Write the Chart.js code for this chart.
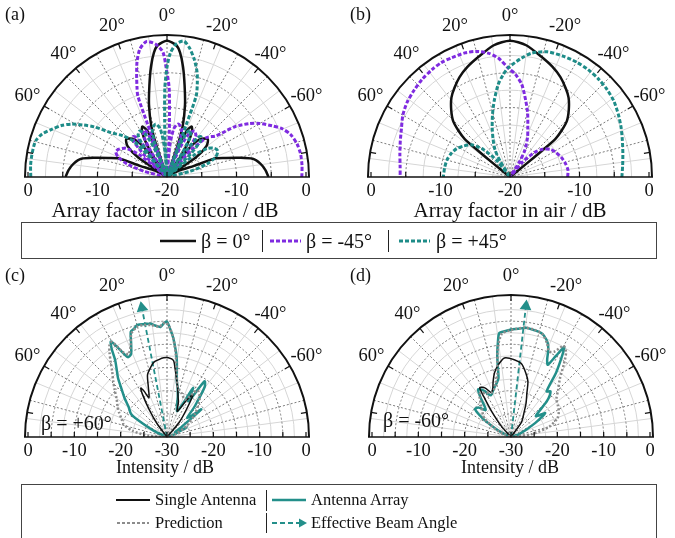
<!DOCTYPE html>
<html>
<head>
<meta charset="utf-8">
<script src="https://cdn.jsdelivr.net/npm/chart.js@4.4.1/dist/chart.umd.min.js"></script>
<style>
  body { margin: 0; background: #fff; }
  #page { position: relative; width: 675px; height: 538px; overflow: hidden;
          font-family: "Liberation Serif", "Times New Roman", serif; color: #111; }
  canvas { position: absolute; }
  .txt { position: absolute; font-size: 18px; line-height: 22px; white-space: nowrap; }
  .big { font-size: 20px; line-height: 24px; }
  .title { font-size: 21px; line-height: 24px; }
  .small { font-size: 16.5px; line-height: 22px; }
  .box { position: absolute; border: 1px solid #444; box-sizing: border-box; }
  svg { position: absolute; left: 0; top: 0; }
</style>
</head>
<body>
<div id="page">
  <canvas id="chartA" width="337" height="205" style="left:0;top:0"></canvas>
  <canvas id="chartB" width="338" height="205" style="left:337px;top:0"></canvas>
  <canvas id="chartC" width="337" height="200" style="left:0;top:262px"></canvas>
  <canvas id="chartD" width="338" height="200" style="left:337px;top:262px"></canvas>

  <div class="txt" style="left:5px;top:3px">(a)</div>
  <div class="txt" style="left:350px;top:3px">(b)</div>
  <div class="txt" style="left:5px;top:264px">(c)</div>
  <div class="txt" style="left:350px;top:264px">(d)</div>

  <div class="txt title" style="left:165px;top:198px;transform:translateX(-50%)">Array factor in silicon / dB</div>
  <div class="txt title" style="left:510px;top:198px;transform:translateX(-50%)">Array factor in air / dB</div>
  <div class="txt" style="left:165px;top:456px;transform:translateX(-50%)">Intensity / dB</div>
  <div class="txt" style="left:510px;top:456px;transform:translateX(-50%)">Intensity / dB</div>

  <div class="txt big" style="left:41px;top:411px">β = +60°</div>
  <div class="txt big" style="left:383px;top:408px">β = -60°</div>

  <div class="box" style="left:21px;top:222px;width:636px;height:37px"></div>
  <div class="box" style="left:21px;top:484px;width:636px;height:70px"></div>

  <svg width="675" height="538">
    <line x1="160" y1="241" x2="196" y2="241" stroke="#111" stroke-width="2.5"/>
    <line x1="262.5" y1="230" x2="262.5" y2="252" stroke="#222" stroke-width="1"/>
    <line x1="270" y1="241" x2="301" y2="241" stroke="#7f2be0" stroke-width="3" stroke-dasharray="4 2"/>
    <line x1="388.5" y1="230" x2="388.5" y2="252" stroke="#222" stroke-width="1"/>
    <line x1="399" y1="241" x2="430" y2="241" stroke="#1e8c88" stroke-width="3" stroke-dasharray="4 2"/>

    <line x1="116" y1="500" x2="150" y2="500" stroke="#111" stroke-width="2"/>
    <line x1="117" y1="523" x2="149" y2="523" stroke="#8c8c8c" stroke-width="2" stroke-dasharray="3 2"/>
    <line x1="266.5" y1="490" x2="266.5" y2="511" stroke="#222" stroke-width="1"/>
    <line x1="266.5" y1="513" x2="266.5" y2="533" stroke="#222" stroke-width="1"/>
    <line x1="272" y1="500" x2="306" y2="500" stroke="#238f8a" stroke-width="2.5"/>
    <line x1="272" y1="523" x2="299" y2="523" stroke="#238f8a" stroke-width="2" stroke-dasharray="5 3"/>
    <polygon points="299,518.5 307,523 299,527.5" fill="#238f8a"/>
  </svg>

  <div class="txt big" style="left:201px;top:229px">β = 0°</div>
  <div class="txt big" style="left:306px;top:229px">β = -45°</div>
  <div class="txt big" style="left:436px;top:229px">β = +45°</div>
  <div class="txt small" style="left:155px;top:489px">Single Antenna</div>
  <div class="txt small" style="left:311px;top:489px">Antenna Array</div>
  <div class="txt small" style="left:155px;top:512px">Prediction</div>
  <div class="txt small" style="left:311px;top:512px">Effective Beam Angle</div>
</div>

<script>
// every series: [angle in degrees (positive = left of broadside), level in dB]

// (a) array factor in silicon
const siliconBeta0 = [[-90,-5.4],[-86,-5.8],[-82,-6.4],[-78,-7.4],[-75,-9.3],[-72,-11.1],[-69,-12.5],[-67.5,-15.8],[-64,-17.5],[-61,-18.5],[-58.5,-20],[-56,-15],[-52,-12.8],[-47,-12],[-41,-12.8],[-37.5,-15],[-35.5,-20],[-34,-17],[-32,-14.5],[-29,-12.6],[-26,-11.9],[-23,-12.8],[-21,-15],[-19.5,-20],[-18.5,-15],[-17,-12.2],[-14,-9.3],[-10.9,-6.6],[-8.3,-4],[-6,-2],[-4,-1],[0,-0.4],[4,-1],[6,-2],[8.3,-4],[10.9,-6.6],[14,-9.3],[17,-12.2],[18.5,-15],[19.5,-20],[21,-15],[23,-12.8],[26,-11.9],[29,-12.6],[32,-14.5],[34,-17],[35.5,-20],[37.5,-15],[41,-12.8],[47,-12],[52,-12.8],[56,-15],[58.5,-20],[61,-18.5],[64,-17.5],[67.5,-15.8],[69,-12.5],[72,-11.1],[75,-9.3],[78,-7.4],[82,-6.4],[86,-5.8],[90,-5.4]];
const siliconBetaM45 = [[-90,-0.6],[-85,-0.5],[-80,-0.5],[-75.6,-0.7],[-71,-1.2],[-67,-2.1],[-64,-3.2],[-60,-4.6],[-57,-5.9],[-53.5,-7.8],[-50,-10.8],[-45,-12],[-42,-15],[-40,-20],[-38,-15],[-35,-12.8],[-31,-12.3],[-27,-13],[-24,-15.5],[-22,-20],[-20,-15],[-17,-12.8],[-12,-12.2],[-8,-13],[-5,-15.5],[-3.5,-20],[-3.2,-15],[-2.8,-13],[-1.4,-7.2],[0.5,-4.2],[1.9,-2],[5,-0.8],[8.7,-0.3],[12,-1.2],[14.5,-2.8],[16.6,-4.7],[18.5,-6.4],[19.8,-7.6],[20.2,-12],[20.5,-20],[22,-15],[24.5,-12.8],[27,-12.5],[30,-13.5],[32.5,-16],[34,-20],[36,-15],[38,-12.8],[40,-12.4],[43,-13],[46,-15.5],[48,-20],[51,-15],[55,-12.8],[60,-12],[64,-11.8],[68,-12.5],[72,-14],[76,-16.5],[80,-20],[90,-20]];
const siliconBetaP45 = [[-90,-20],[-80,-20],[-76,-16.5],[-72,-14],[-68,-12.5],[-63,-11.8],[-59,-12],[-55,-12.8],[-51,-15],[-48,-20],[-46,-15.5],[-43,-13],[-40,-12.4],[-38,-12.8],[-36,-15],[-34,-20],[-32.5,-16],[-30,-13.5],[-27,-12.5],[-24.5,-12.8],[-22,-15],[-20.5,-20],[-20.2,-12],[-19.8,-7.6],[-18,-5.9],[-16,-4.3],[-13,-2.6],[-10,-1.2],[-7.1,-0.3],[-4,-0.8],[-1.5,-2.2],[0,-4.2],[1.4,-7.2],[2.4,-12],[3,-14],[3.5,-20],[5,-15.5],[8,-13],[12,-12.2],[17,-12.8],[20,-15],[22,-20],[24,-15.5],[27,-13],[31,-12.3],[35,-12.8],[38,-15],[40,-20],[41,-16],[42.9,-13],[47,-11.3],[51.7,-9.7],[55.4,-7.3],[58,-5.9],[61,-4.3],[64,-3.1],[67.4,-2.1],[71,-1.0],[74.6,-0.4],[80,-0.3],[85,-0.3],[90,-0.4]];

// (b) array factor in air
const airBeta0 = [[-51.5,-20],[-51,-17],[-50.5,-14],[-50,-11.5],[-48,-10],[-45.4,-8.5],[-41,-7.1],[-36.4,-5.8],[-32,-4.9],[-26.8,-3.9],[-21,-3],[-14.5,-2.1],[-7,-0.9],[0,-0.4],[7,-0.9],[14.5,-2.1],[21,-3],[26.8,-3.9],[32,-4.9],[36.4,-5.8],[41,-7.1],[45.4,-8.5],[48,-10],[50,-11.5],[50.5,-14],[51,-17],[51.5,-20]];
const airBetaM45 = [[-90,-11.7],[-83,-11.6],[-76,-11.8],[-69,-12.1],[-62,-12.5],[-56,-12.9],[-50,-13.8],[-45,-15],[-40,-17.2],[-35,-20],[-32,-17.5],[-29,-15.6],[-24,-13.8],[-19.7,-12.4],[-15.5,-10.5],[-11.7,-8.8],[-7.3,-6.6],[-3,-5.2],[1,-4.3],[5.6,-2.8],[10,-1.9],[15,-1.3],[20,-1.0],[26,-0.9],[31,-0.8],[36,-0.9],[42,-1.1],[48,-1.4],[54,-1.7],[60,-2.2],[66,-2.9],[72,-3.4],[78,-3.8],[84,-4.1],[90,-4.2]];
const airBetaP45 = [[-90,-3.9],[-84,-3.7],[-78,-3.4],[-72,-3.0],[-66,-2.5],[-60,-2.0],[-54,-1.5],[-48,-1.2],[-42,-1.0],[-36,-0.9],[-30,-0.9],[-24,-1.0],[-16.7,-1.2],[-10,-1.9],[-5.6,-2.8],[1,-4.3],[4,-5.3],[7.3,-6.6],[11.7,-8.8],[15.5,-10.6],[19.7,-12.4],[24,-14],[29,-15.6],[32,-17.5],[35,-20],[39,-17],[44,-14.5],[50,-12.8],[56,-12],[62,-11.3],[68,-10.9],[75,-10.6],[82,-10.5],[90,-10.4]];

// (c) measured intensity, beta = +60 deg
const singleC = [[-90,-30],[-50,-30],[-40,-26],[-35,-22.5],[-31.4,-19.3],[-28,-21],[-22,-24],[-18,-22],[-15.8,-21.2],[-12,-19],[-10,-17.8],[-6.7,-15.1],[-4.8,-13.4],[-1,-12.9],[2.4,-12.9],[6,-13.2],[9.9,-13.6],[14,-14.8],[17.5,-16],[20.5,-18.5],[24.7,-20.7],[26.5,-19],[28.1,-18],[30,-19.5],[33,-23],[36.7,-26.5],[45,-30],[90,-30]];
const arrayC = [[-90,-30],[-75,-30],[-68,-28],[-64,-25.3],[-60,-28],[-55,-26],[-51,-20.5],[-47,-24],[-42,-21],[-37,-16.5],[-34,-15.5],[-31,-21],[-28,-18],[-25.6,-22],[-21,-24],[-15,-21],[-12,-19],[-10,-17.8],[-7.1,-13],[-3.8,-8.8],[-1.5,-6.5],[0,-5.1],[1.5,-5.4],[3.4,-6.2],[6,-5.8],[8.3,-5.3],[11,-5.2],[14.8,-5.0],[17,-5.6],[19,-6.0],[21,-8.4],[23.5,-10.5],[26.1,-10.8],[28.5,-8.4],[30.4,-6.1],[32,-7.4],[34,-10],[37,-12],[39.8,-13.5],[43,-15.5],[47.3,-17.5],[52,-19.5],[57.4,-20.8],[60,-23],[65,-27],[70,-30],[90,-30]];
const predictionC = [[-90,-30],[-70,-28],[-60,-25],[-50,-22],[-40,-19],[-33,-18],[-26,-21],[-18,-20],[-12,-19],[-9,-16.5],[-6,-12],[-3.5,-8.5],[-1,-6],[1,-5.3],[4,-6.1],[8,-5.6],[12,-5.3],[15,-5.3],[19,-6.4],[22,-9],[25,-10.3],[27.5,-9.3],[30,-6.3],[32,-6.6],[34,-7.8],[37,-9.8],[40,-11.6],[44,-13.3],[48,-14.8],[53,-16.4],[58,-17.4],[63,-18.4],[68,-19.4],[74,-20.3],[80,-22.5],[86,-26],[90,-30]];
const beamC = [11];

// (d) measured intensity, beta = -60 deg
const singleD = [[-90,-30],[-45,-30],[-35,-26],[-28,-24],[-24,-22],[-20,-20],[-17,-17.5],[-13,-15.8],[-8,-14],[-2.4,-13.3],[4.8,-12.9],[10,-14.2],[14.4,-15.7],[18,-17.5],[21,-19],[24,-19.5],[28,-18],[32.4,-17.4],[34,-19.5],[37,-23],[42,-27],[50,-30],[90,-30]];
const arrayD = [[-90,-30],[-70,-28],[-60,-24],[-55,-21],[-50,-23],[-45,-19],[-41,-17],[-38,-17.5],[-35,-13],[-32,-9],[-30.6,-7.5],[-29,-10],[-27,-12.5],[-25.1,-11.6],[-23,-9.4],[-21.1,-8.1],[-18,-7.0],[-16,-6.6],[-12,-6.4],[-7.8,-6.2],[-4,-6.6],[0,-6.8],[3,-7.1],[6.4,-7.4],[8,-9.6],[9.5,-12],[10.6,-14.5],[12,-17],[15,-18],[20,-19],[26,-20],[30,-18.5],[34.6,-17.5],[38,-19.5],[43,-22],[48,-20.5],[52.4,-20.2],[57,-23],[63,-27],[70,-30],[90,-30]];
const predictionD = [[-90,-30],[-82,-25.5],[-75,-21.5],[-68,-19.2],[-62,-18.3],[-56,-17.8],[-50,-17.2],[-45,-15.6],[-40,-13.6],[-36,-10.6],[-33,-8.2],[-30,-7.3],[-27,-9.3],[-24,-9.8],[-21,-8.3],[-17,-6.8],[-12,-6.3],[-7,-6.2],[-3,-6.6],[1,-7.0],[5,-7.6],[8,-10],[10,-13],[12,-16],[16,-18],[22,-19.5],[30,-19],[36,-18.5],[45,-21],[55,-23],[65,-27],[75,-30],[90,-30]];
const beamD = [-6.5];

// tick labels
const angleTicks = [0, 20, -20, 40, -40, 60, -60];
const radialTicksTop = ['0', '-10', '-20', '-10', '0'];
const radialTicksBottom = ['0', '-10', '-20', '-30', '-20', '-10', '0'];

const PURPLE = '#7f2be0';
const TEAL = '#1e8c88';
const ARRAY_TEAL = '#238f8a';
const GRAY = '#8c8c8c';

// outer frame sits a little beyond 0 dB
const FRAME = 142 / 139;

function toXY(points, min) {
  return points.map(([a, v]) => {
    const r = Math.max(0, v - min);
    const t = a * Math.PI / 180;
    return { x: -r * Math.sin(t), y: r * Math.cos(t) };
  });
}

const polarGrid = {
  id: 'polarGrid',
  geom(chart, opts) {
    const { x, y } = chart.scales;
    const R = opts.range;
    const cx = x.getPixelForValue(0), cy = y.getPixelForValue(0);
    return {
      R, cx, cy,
      sx: x.getPixelForValue(R) - cx, sy: cy - y.getPixelForValue(R),
      fx: x.getPixelForValue(x.max) - cx, fy: cy - y.getPixelForValue(y.max)
    };
  },
  beforeDatasetsDraw(chart, args, opts) {
    const { ctx } = chart;
    const { R, cx, cy, sx, sy, fx, fy } = this.geom(chart, opts);
    const ring = (f) => { ctx.beginPath(); ctx.ellipse(cx, cy, sx * f, sy * f, 0, Math.PI, 2 * Math.PI); ctx.stroke(); };
    const spoke = (deg) => {
      const t = deg * Math.PI / 180;
      ctx.beginPath(); ctx.moveTo(cx, cy);
      ctx.lineTo(cx - fx * Math.sin(t), cy - fy * Math.cos(t)); ctx.stroke();
    };
    ctx.save();
    ctx.strokeStyle = '#d6d6d6'; ctx.lineWidth = 1;
    for (let r = 2.5; r < R; r += 5) ring(r / R);
    for (let a = -82.5; a < 90; a += 15) spoke(a);
    ctx.strokeStyle = '#7a7a7a'; ctx.setLineDash([2, 2]);
    for (let r = 5; r < R; r += 5) ring(r / R);
    for (let a = -75; a <= 75; a += 15) spoke(a);
    ctx.restore();
  },
  afterDatasetsDraw(chart, args, opts) {
    const { ctx } = chart;
    const { R, cx, cy, sx, sy, fx, fy } = this.geom(chart, opts);
    ctx.save();
    ctx.strokeStyle = '#111';
    ctx.lineWidth = 2;
    ctx.beginPath(); ctx.ellipse(cx, cy, fx, fy, 0, Math.PI, 2 * Math.PI); ctx.stroke();
    ctx.lineWidth = 1.5;
    ctx.beginPath(); ctx.moveTo(cx - fx - 1, cy); ctx.lineTo(cx + fx + 1, cy); ctx.stroke();
    ctx.lineWidth = 1.2;
    for (let a = -80; a <= 80; a += 20) {
      const t = a * Math.PI / 180;
      ctx.beginPath();
      ctx.moveTo(cx - fx * Math.sin(t), cy - fy * Math.cos(t));
      ctx.lineTo(cx - (fx - 6) * Math.sin(t), cy - (fy - 6) * Math.cos(t));
      ctx.stroke();
    }
    for (let r = -R; r <= R; r += 5) {
      const px = cx + sx * r / R;
      ctx.beginPath(); ctx.moveTo(px, cy); ctx.lineTo(px, cy - 5); ctx.stroke();
    }
    // labels
    ctx.fillStyle = '#111';
    ctx.font = '18.5px "Liberation Serif", serif';
    ctx.textAlign = 'center';
    ctx.textBaseline = 'middle';
    angleTicks.forEach(a => {
      const t = a * Math.PI / 180;
      ctx.fillText(a + '°', cx - (fx + 19) * Math.sin(t), cy - (fy + 19) * Math.cos(t));
    });
    const labels = opts.ticks;
    labels.forEach((txt, i) => {
      const px = cx - sx + (2 * sx) * i / (labels.length - 1);
      ctx.fillText(txt, px, cy + 14);
    });
    ctx.restore();
  }
};

function line(points, min, color, width, dash) {
  return {
    data: toXY(points, min), showLine: true, borderColor: color,
    borderWidth: width, borderDash: dash || [], pointRadius: 0, tension: 0.25
  };
}

function arrow(angles, min) {
  const tip = [[angles[0], min], [angles[0], -1.6]];
  return {
    data: toXY(tip, min), showLine: true, borderColor: ARRAY_TEAL, borderWidth: 1.8,
    borderDash: [5, 3], tension: 0, pointRadius: [0, 5], pointStyle: 'triangle',
    rotation: [0, -angles[0]], pointBackgroundColor: ARRAY_TEAL, pointBorderColor: ARRAY_TEAL
  };
}

function makePanel(id, box, range, ticks, datasets) {
  const pad = {
    left: box.cx - box.r, right: box.w - box.cx - box.r,
    top: box.cy - box.r, bottom: box.h - box.cy
  };
  const lim = range * FRAME;
  return new Chart(document.getElementById(id), {
    type: 'scatter',
    data: { datasets },
    options: {
      responsive: false, animation: false, events: [],
      layout: { padding: pad },
      plugins: { legend: { display: false }, tooltip: { enabled: false }, polarGrid: { ticks, range } },
      scales: {
        x: { type: 'linear', min: -lim, max: lim, display: false },
        y: { type: 'linear', min: 0, max: lim, display: false }
      }
    },
    plugins: [polarGrid]
  });
}

makePanel('chartA', { w: 337, h: 205, cx: 167, cy: 177, r: 142 }, 20, radialTicksTop, [
  line(siliconBetaP45, -20, TEAL, 3, [4, 2]),
  line(siliconBetaM45, -20, PURPLE, 3, [4, 2]),
  line(siliconBeta0, -20, '#111', 2.5)
]);
makePanel('chartB', { w: 338, h: 205, cx: 173, cy: 177, r: 142 }, 20, radialTicksTop, [
  line(airBetaP45, -20, TEAL, 3, [4, 2]),
  line(airBetaM45, -20, PURPLE, 3, [4, 2]),
  line(airBeta0, -20, '#111', 2.5)
]);
makePanel('chartC', { w: 337, h: 200, cx: 167, cy: 175, r: 142 }, 30, radialTicksBottom, [
  line(predictionC, -30, GRAY, 2.5, [2, 2]),
  line(singleC, -30, '#111', 1.5),
  line(arrayC, -30, ARRAY_TEAL, 2.5),
  arrow(beamC, -30)
]);
makePanel('chartD', { w: 338, h: 200, cx: 174, cy: 175, r: 142 }, 30, radialTicksBottom, [
  line(predictionD, -30, GRAY, 2.5, [2, 2]),
  line(singleD, -30, '#111', 1.5),
  line(arrayD, -30, ARRAY_TEAL, 2.5),
  arrow(beamD, -30)
]);
</script>
</body>
</html>
